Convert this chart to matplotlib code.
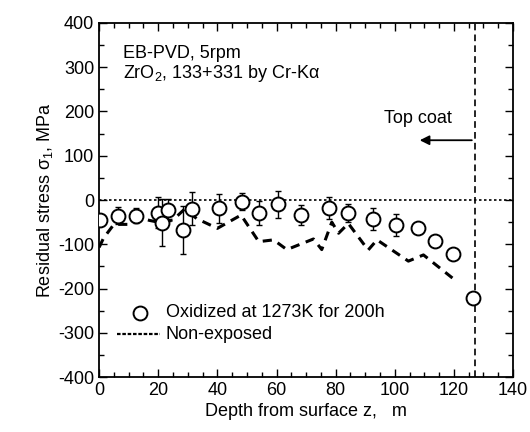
import numpy as np
import matplotlib.pyplot as plt
from matplotlib.ticker import MultipleLocator

plt.rcParams['font.family'] = ['Liberation Sans', 'DejaVu Sans']
plt.rcParams['mathtext.fontset'] = 'custom'
plt.rcParams['mathtext.rm'] = 'Liberation Sans'
plt.rcParams['mathtext.it'] = 'Liberation Sans'
plt.rcParams['axes.unicode_minus'] = False

# oxidized at 1273K for 200h
depth_ox = [0.3, 6.5, 12.5, 20, 21.4, 23.2, 28.5, 31.3, 40.4, 48.2, 54.1, 60.4,
            68.3, 77.9, 84.1, 92.5, 100.3, 108, 113.6, 119.8, 126.5]
stress_ox = [-45, -35, -35, -29, -51, -23, -68, -20, -19, -4, -29, -10,
             -34, -19, -30, -43, -56, -64, -92, -121, -222]
err_ox = [0, 20, 18, 35, 53, 25, 54, 37, 32, 19, 27, 30,
          22, 25, 20, 25, 25, 0, 0, 0, 0]

# non-exposed
depth_ne = [0, 1.5, 5, 10, 14, 17, 20, 25, 29, 33, 40, 48, 54, 59, 63.5, 68,
            72.5, 75.3, 78.7, 81, 84.3, 91, 94, 104.6, 109.7, 120.6]
stress_ne = [-107, -86, -55, -55, -40, -46, -50, -45, -20, -42, -64, -34, -94, -90,
             -112, -100, -88, -112, -50, -75, -53, -113, -90, -138, -124, -182]

top_coat_depth = 127

fig = plt.figure(figsize=(5.3, 4.32), dpi=100)
ax = fig.add_axes([0.187, 0.127, 0.781, 0.820])

ax.axhline(0, color='black', linestyle=(0, (1.5, 1.5)), linewidth=1.2, zorder=1)
ax.axvline(top_coat_depth, color='black', linestyle=(0, (4, 2.5)), linewidth=1.2, zorder=1)

ax.plot(depth_ne, stress_ne, color='black', linestyle=(0, (3, 2.2)), linewidth=2.2, zorder=2)

ax.errorbar(depth_ox, stress_ox, yerr=err_ox, fmt='none', ecolor='black',
            elinewidth=1.0, capsize=2.5, capthick=1.0, zorder=3)
ax.plot(depth_ox, stress_ox, 'o', markersize=10, markerfacecolor='white',
        markeredgecolor='black', markeredgewidth=1.4, zorder=4)

ax.set_xlim(0, 140)
ax.set_ylim(-400, 400)
ax.xaxis.set_major_locator(MultipleLocator(20))
ax.xaxis.set_minor_locator(MultipleLocator(5))
ax.yaxis.set_major_locator(MultipleLocator(100))
ax.yaxis.set_minor_locator(MultipleLocator(50))
ax.tick_params(which='both', direction='in', top=True, right=True, labelsize=13, width=1.0)
ax.tick_params(which='major', length=6)
ax.tick_params(which='minor', length=3.5)
for s in ax.spines.values():
    s.set_linewidth(1.3)

ax.set_xlabel('Depth from surface z,   m', fontsize=13, labelpad=3)
ax.set_ylabel(r'Residual stress $\sigma_1$, MPa', fontsize=13, labelpad=2)

ax.text(8.1, 330, 'EB-PVD, 5rpm', fontsize=13, va='center')
ax.text(8.1, 285, r'ZrO$_2$, 133+331 by Cr-K$\alpha$', fontsize=13, va='center')

ax.text(96.5, 185, 'Top coat', fontsize=13, va='center')
ax.annotate('', xy=(107.5, 135), xytext=(top_coat_depth, 135),
            arrowprops=dict(arrowstyle='-|>', color='black', lw=1.3, mutation_scale=14))

# legend drawn by hand
ax.plot([13.9], [-255], 'o', markersize=10, markerfacecolor='white',
        markeredgecolor='black', markeredgewidth=1.4)
ax.text(22.6, -255, 'Oxidized at 1273K for 200h', fontsize=13, va='center')
ax.plot([6, 20.5], [-303, -303], color='black', linestyle=(0, (1.6, 0.8)), linewidth=1.6)
ax.text(22.6, -303, 'Non-exposed', fontsize=13, va='center')

fig.savefig('out.png', dpi=100)
